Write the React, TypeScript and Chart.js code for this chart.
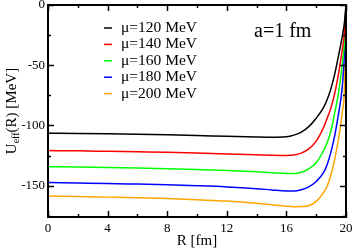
import React, { useEffect, useRef } from "react";
import { Chart, registerables } from "chart.js";

Chart.register(...registerables);

const rValues = [0, 2, 4, 6, 8, 10, 12, 14, 15, 16, 16.5, 17, 17.5, 18, 18.5, 18.75, 19, 19.25, 19.5, 19.75, 19.9, 20];
const mu120 = [-106.4, -106.6, -106.9, -107.3, -107.8, -108.4, -109.0, -109.6, -109.8, -109.4, -108.0, -105.5, -101.0, -94.0, -85.0, -78.0, -69.0, -57.0, -42.0, -26.0, -14.0, 0];
const mu140 = [-120.8, -121.1, -121.5, -121.9, -122.3, -122.9, -123.6, -124.4, -124.8, -125.0, -124.6, -123.0, -119.5, -113.0, -101.5, -93.5, -85.0, -73.0, -57.0, -37.0, -22.0, 0];
const mu160 = [-134.2, -134.5, -135.0, -135.4, -135.9, -136.6, -137.4, -138.5, -139.2, -139.8, -139.8, -138.8, -136.0, -131.0, -120.8, -114.0, -104.0, -89.0, -73.0, -49.0, -30.0, 0];
const mu180 = [-147.4, -147.8, -148.2, -148.7, -149.2, -150.0, -151.0, -152.5, -153.5, -154.4, -154.4, -153.3, -151.0, -146.5, -139.0, -132.0, -121.5, -108.0, -90.0, -68.0, -38.0, 0];
const mu200 = [-158.6, -159.0, -159.5, -160.0, -160.7, -161.6, -162.8, -164.6, -165.8, -167.0, -167.4, -167.3, -166.6, -163.0, -155.5, -150.0, -140.5, -127.5, -111.0, -89.0, -68.0, 0];

const seriesLabels = ["\u03bc=120 MeV", "\u03bc=140 MeV", "\u03bc=160 MeV", "\u03bc=180 MeV", "\u03bc=200 MeV"];
const seriesValues = [mu120, mu140, mu160, mu180, mu200];
const seriesColors = ["#000000", "#ff0000", "#00ff00", "#0000ff", "#ffa500"];

const xMajorTicks = [0, 4, 8, 12, 16, 20];
const xMinorTicks = [2, 6, 10, 14, 18];
const yMajorTicks = [0, -50, -100, -150];
const yMinorTicks = [-25, -75, -125, -175];

const annotationText = "a=1 fm";
const xTitle = "R [fm]";

const FONT = "'Liberation Serif', 'Times New Roman', serif";

const framePlugin = {
  id: "framePlugin",
  afterDatasetsDraw(chart: any) {
    const { ctx, chartArea: a, scales } = chart;
    const xs = scales.x;
    const ys = scales.y;
    ctx.save();
    ctx.strokeStyle = "#000";
    ctx.lineWidth = 1.5;
    const drawX = (v: number, len: number) => {
      const px = Math.round(xs.getPixelForValue(v)) + 0.5;
      ctx.beginPath();
      ctx.moveTo(px, a.bottom);
      ctx.lineTo(px, a.bottom - len);
      ctx.moveTo(px, a.top);
      ctx.lineTo(px, a.top + len);
      ctx.stroke();
    };
    const drawY = (v: number, len: number) => {
      const py = Math.round(ys.getPixelForValue(v)) + 0.5;
      ctx.beginPath();
      ctx.moveTo(a.left, py);
      ctx.lineTo(a.left + len, py);
      ctx.moveTo(a.right, py);
      ctx.lineTo(a.right - len, py);
      ctx.stroke();
    };
    xMajorTicks.forEach((v) => drawX(v, 6));
    xMinorTicks.forEach((v) => drawX(v, 3));
    yMajorTicks.forEach((v) => drawY(v, 6));
    yMinorTicks.forEach((v) => drawY(v, 3));
    ctx.lineWidth = 2;
    ctx.strokeRect(a.left, a.top, a.right - a.left, a.bottom - a.top);

    // legend
    ctx.font = `15.5px ${FONT}`;
    ctx.textBaseline = "middle";
    ctx.textAlign = "left";
    chart.data.datasets.forEach((ds: any, i: number) => {
      const y = a.top + 23 + i * 16.4;
      ctx.strokeStyle = ds.borderColor;
      ctx.lineWidth = 1.5;
      ctx.beginPath();
      ctx.moveTo(a.left + 56, y);
      ctx.lineTo(a.left + 64, y);
      ctx.stroke();
      ctx.fillStyle = "#000";
      ctx.fillText(ds.label, a.left + 73, y);
    });

    // annotation
    ctx.font = `20px ${FONT}`;
    ctx.fillStyle = "#000";
    ctx.fillText(annotationText, a.left + 206, a.top + 27);

    // y title with subscript
    ctx.translate(12, (a.top + a.bottom) / 2);
    ctx.rotate(-Math.PI / 2);
    const big = `15px ${FONT}`;
    const small = `10px ${FONT}`;
    const parts = [
      { t: "U", f: big, dy: 0 },
      { t: "eff", f: small, dy: 4 },
      { t: "(R) [MeV]", f: big, dy: 0 },
    ];
    let total = 0;
    parts.forEach((p) => {
      ctx.font = p.f;
      total += ctx.measureText(p.t).width;
    });
    let x = -total / 2;
    ctx.textBaseline = "middle";
    parts.forEach((p) => {
      ctx.font = p.f;
      ctx.fillText(p.t, x, p.dy);
      x += ctx.measureText(p.t).width;
    });
    ctx.restore();
  },
};

export default function App() {
  const ref = useRef<HTMLCanvasElement>(null);
  useEffect(() => {
    document.body.style.margin = "0";
    const chart = new Chart(ref.current!, {
      type: "line",
      data: {
        datasets: seriesValues.map((vals, i) => ({
          label: seriesLabels[i],
          data: rValues.map((r, j) => ({ x: r, y: vals[j] })),
          borderColor: seriesColors[i],
          backgroundColor: seriesColors[i],
          borderWidth: 1.5,
          pointRadius: 0,
          cubicInterpolationMode: "monotone" as const,
          fill: false,
        })),
      },
      options: {
        animation: false,
        responsive: false,
        maintainAspectRatio: false,
        layout: { padding: { top: 5, right: 8, left: 0, bottom: 0 } },
        plugins: { legend: { display: false }, tooltip: { enabled: false } },
        scales: {
          x: {
            type: "linear",
            min: 0,
            max: 20,
            afterBuildTicks: (s: any) => {
              s.ticks = xMajorTicks.map((v) => ({ value: v }));
            },
            afterFit: (s: any) => {
              s.height = 33;
              s.paddingLeft = 0;
              s.paddingRight = 0;
            },
            grid: { display: false, drawTicks: false },
            border: { display: false },
            ticks: {
              padding: 4,
              color: "#000",
              font: { family: FONT, size: 13 },
              maxRotation: 0,
            },
            title: {
              display: true,
              text: xTitle,
              color: "#000",
              font: { family: FONT, size: 15 },
              padding: { top: 2, bottom: 0 },
            },
          },
          y: {
            type: "linear",
            min: -176,
            max: 0,
            afterBuildTicks: (s: any) => {
              s.ticks = yMajorTicks.map((v) => ({ value: v }));
            },
            afterFit: (s: any) => {
              s.width = 48;
              s.paddingTop = 0;
              s.paddingBottom = 0;
            },
            grid: { display: false, drawTicks: false },
            border: { display: false },
            ticks: {
              padding: 3,
              color: "#000",
              font: { family: FONT, size: 13 },
            },
          },
        },
      },
      plugins: [framePlugin],
    });
    return () => chart.destroy();
  }, []);
  return (
    <div style={{ position: "absolute", left: 0, top: 0, width: 354, height: 250 }}>
      <canvas ref={ref} width={354} height={250} style={{ width: 354, height: 250 }} />
    </div>
  );
}
